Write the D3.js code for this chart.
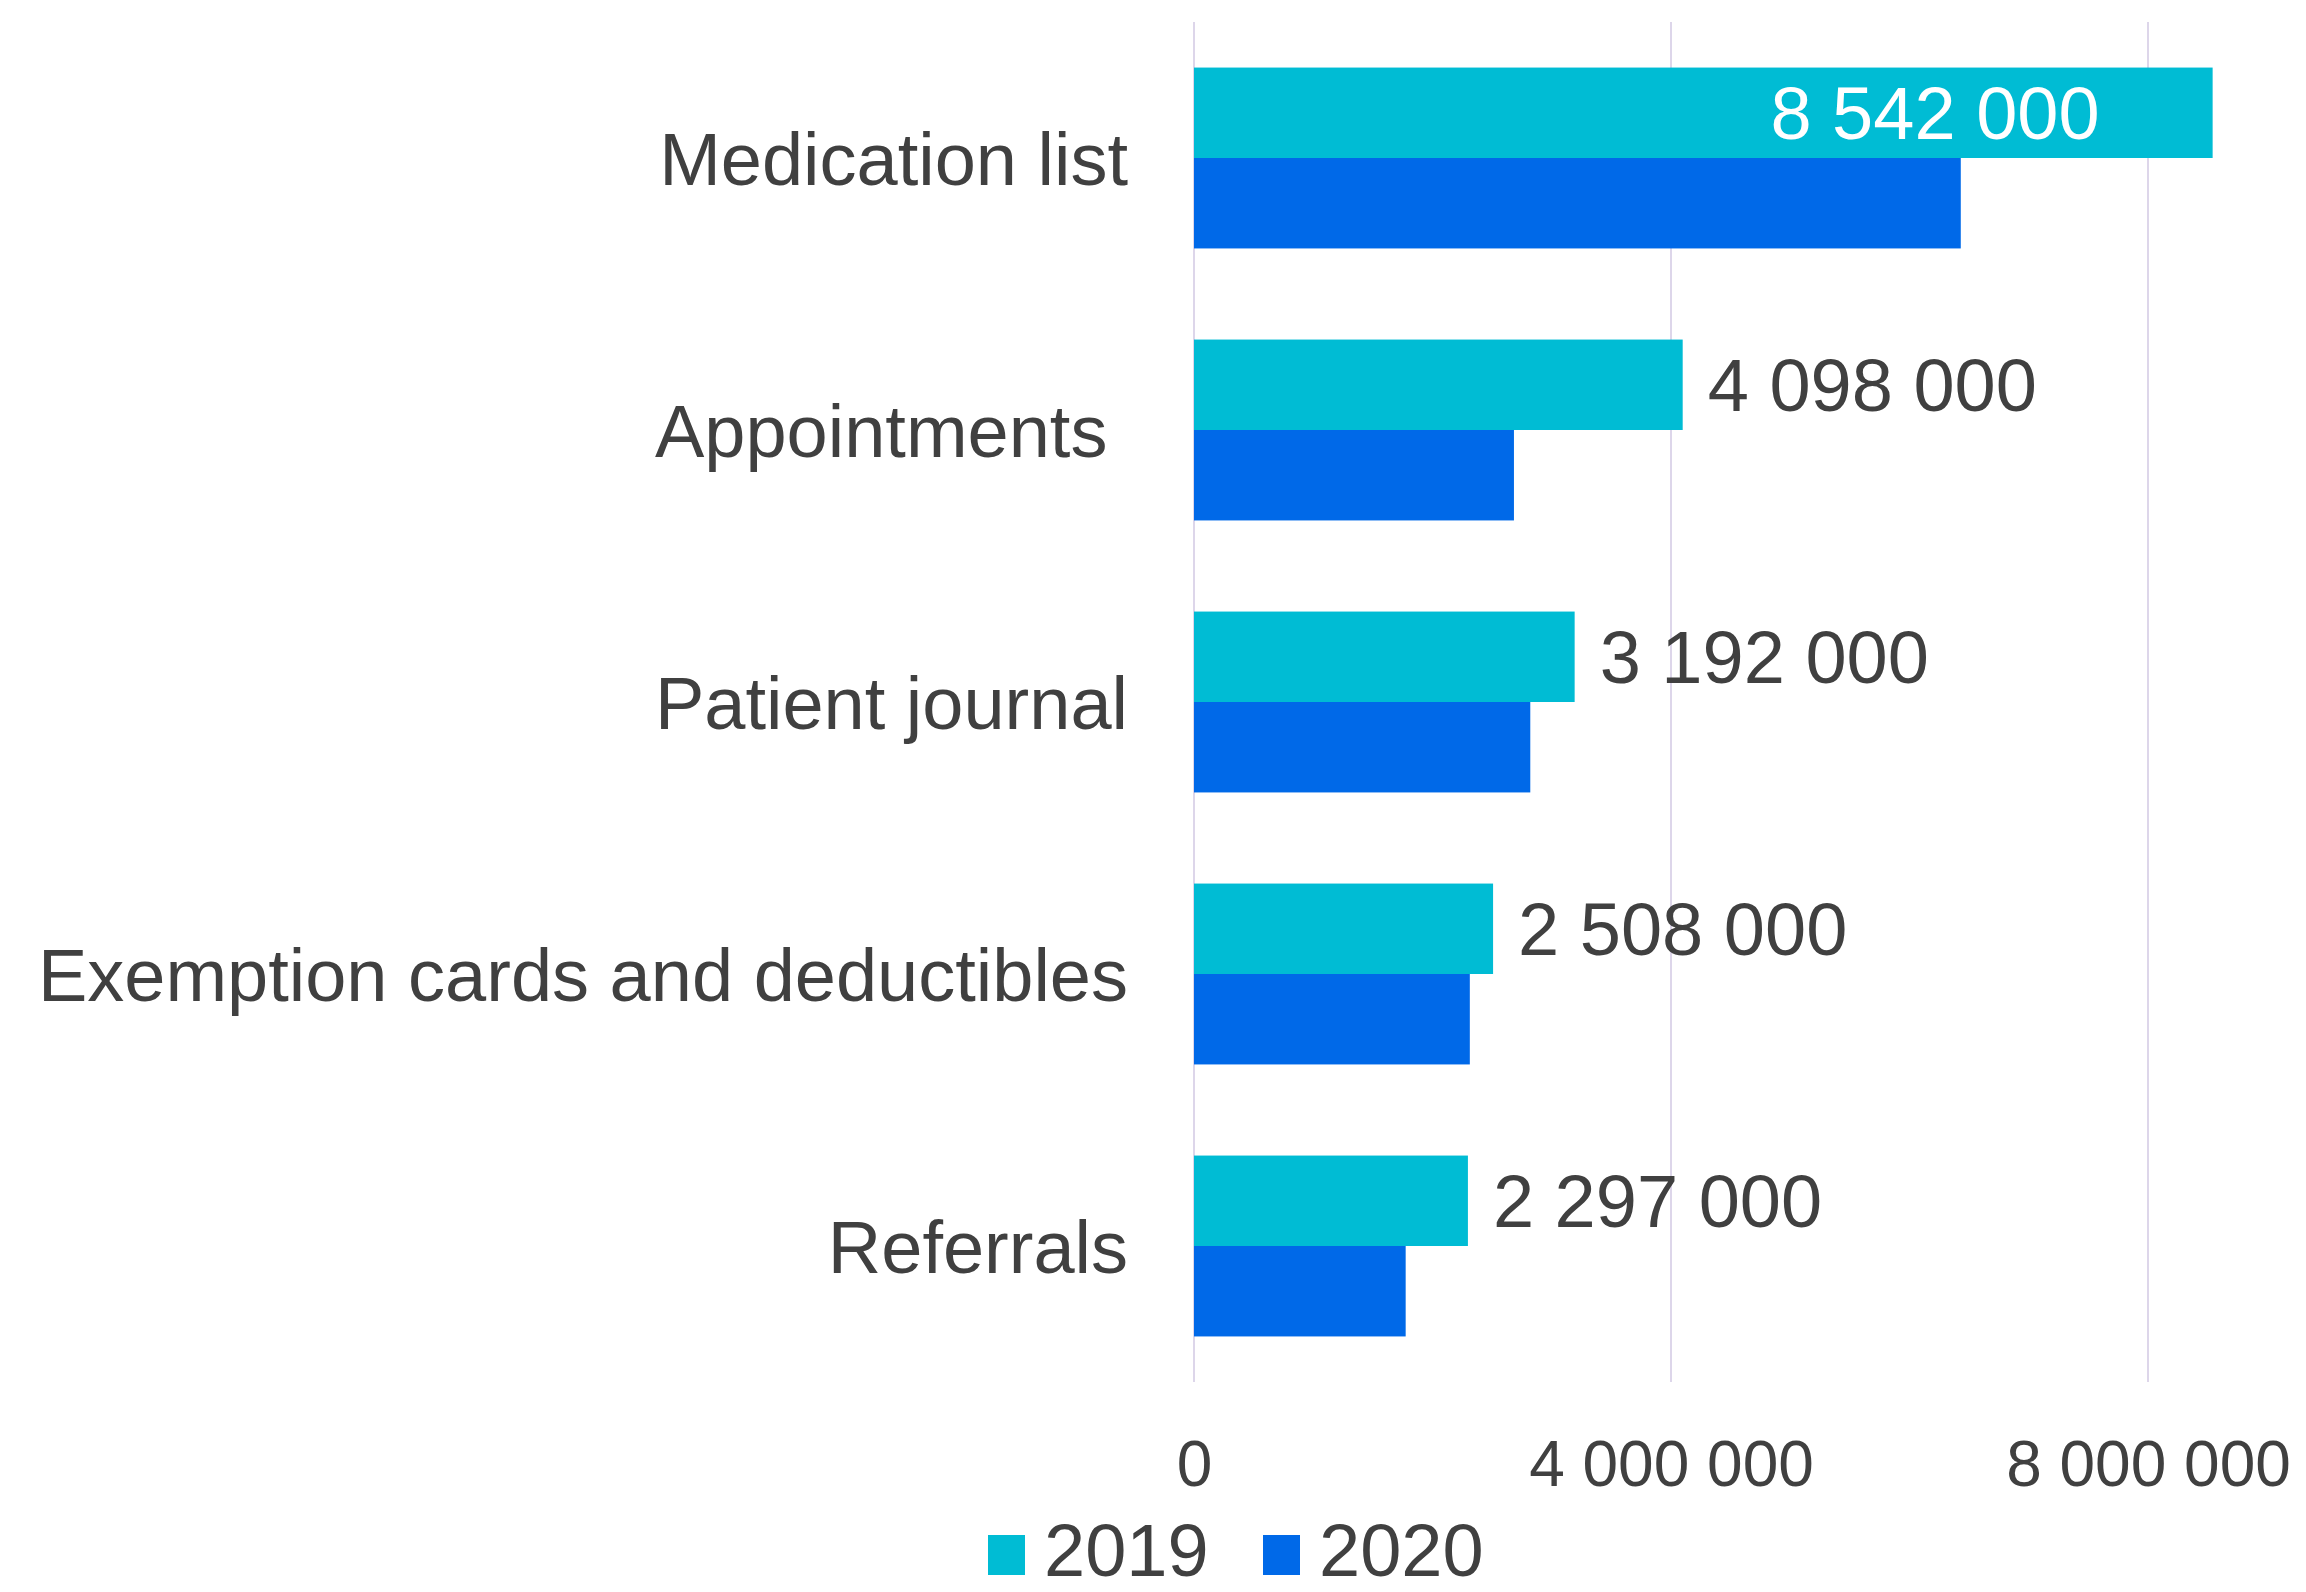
<!DOCTYPE html>
<html>
<head>
<meta charset="utf-8">
<script src="https://cdn.jsdelivr.net/npm/d3@7"></script>
<style>
  body { margin: 0; background: #fff; }
  svg { display: block; font-family: "Liberation Sans", Arial, sans-serif; }
</style>
</head>
<body>
<svg id="chart"></svg>
<script>
// data
const categories = ['Medication list', 'Appointments ', 'Patient journal', 'Exemption cards and deductibles', 'Referrals']
const years = ['2019', '2020']
const values2019 = [8542000, 4098000, 3192000, 2508000, 2297000]
const values2020 = [6430000, 2683000, 2820000, 2313000, 1775000]
const tickValues = [0, 4000000, 8000000]
const colors = ['#00bcd4', '#0069e8']

const width = 2306
const height = 1592
const textColor = '#404040'
const gridColor = '#ddd6ea'

let svg = d3.select('#chart').attr('width', width).attr('height', height)

let rows = categories.map((c, i) => ({ name: c, vals: [values2019[i], values2020[i]] }))

let x = d3.scaleLinear().domain([0, 8000000]).range([1194, 2148])
let y0 = d3.scaleBand().domain(categories).range([22, 1382]).paddingInner(0.335).paddingOuter(0.1675)
let y1 = d3.scaleBand().domain(years).range([0, y0.bandwidth()])

let fmt = d3.formatLocale({ decimal: ',', thousands: ' ', grouping: [3], currency: ['', ''] }).format(',d')

// gridlines
svg.append('g')
    .selectAll('line')
    .data(tickValues)
    .enter().append('line')
    .attr('x1', d => x(d)).attr('x2', d => x(d))
    .attr('y1', 22).attr('y2', 1382)
    .attr('stroke', gridColor)
    .attr('stroke-width', 2)

// bars
let groups = svg.append('g')
    .selectAll('g')
    .data(rows)
    .enter().append('g')
    .attr('transform', d => 'translate(0,' + y0(d.name) + ')')

groups.selectAll('rect')
    .data(d => d.vals.map((v, j) => ({ year: years[j], v: v, j: j })))
    .enter().append('rect')
    .attr('x', x(0))
    .attr('y', d => y1(d.year))
    .attr('width', d => x(d.v) - x(0))
    .attr('height', y1.bandwidth())
    .attr('fill', d => colors[d.j])

// value labels for 2019 (inside the bar when it is long)
groups.append('text')
    .attr('x', d => d.vals[0] > 6000000 ? x(d.vals[0]) - 113 : x(d.vals[0]) + 25)
    .attr('y', y1('2019') + y1.bandwidth() / 2)
    .attr('dy', '0.35em')
    .attr('text-anchor', d => d.vals[0] > 6000000 ? 'end' : 'start')
    .attr('fill', d => d.vals[0] > 6000000 ? '#ffffff' : textColor)
    .style('font-size', '74px')
    .text(d => fmt(d.vals[0]))

// category labels
svg.append('g')
    .selectAll('text')
    .data(categories)
    .enter().append('text')
    .attr('x', 1128)
    .attr('y', d => y0(d) + y0.bandwidth() / 2)
    .attr('dy', '0.36em')
    .attr('text-anchor', 'end')
    .attr('fill', textColor)
    .style('font-size', '74px')
    .style('white-space', 'pre')
    .text(d => d)

// x axis
let xAxis = d3.axisBottom(x).tickValues(tickValues).tickSize(0).tickFormat(fmt)
let axisG = svg.append('g').attr('transform', 'translate(0,1382)').call(xAxis)
axisG.select('.domain').remove()
axisG.selectAll('text')
    .attr('y', 104)
    .attr('dy', 0)
    .attr('fill', textColor)
    .style('font-size', '64px')
    .style('font-family', '"Liberation Sans", Arial, sans-serif')

// legend
let legendX = [988, 1263]
let legend = svg.append('g')
    .selectAll('g')
    .data(years)
    .enter().append('g')
    .attr('transform', (d, i) => 'translate(' + legendX[i] + ',0)')

legend.append('rect')
    .attr('x', 0).attr('y', 1535)
    .attr('width', 37).attr('height', 40)
    .attr('fill', (d, i) => colors[i])

legend.append('text')
    .attr('x', 56).attr('y', 1576)
    .attr('fill', textColor)
    .style('font-size', '74px')
    .text(d => d)
</script>
</body>
</html>
